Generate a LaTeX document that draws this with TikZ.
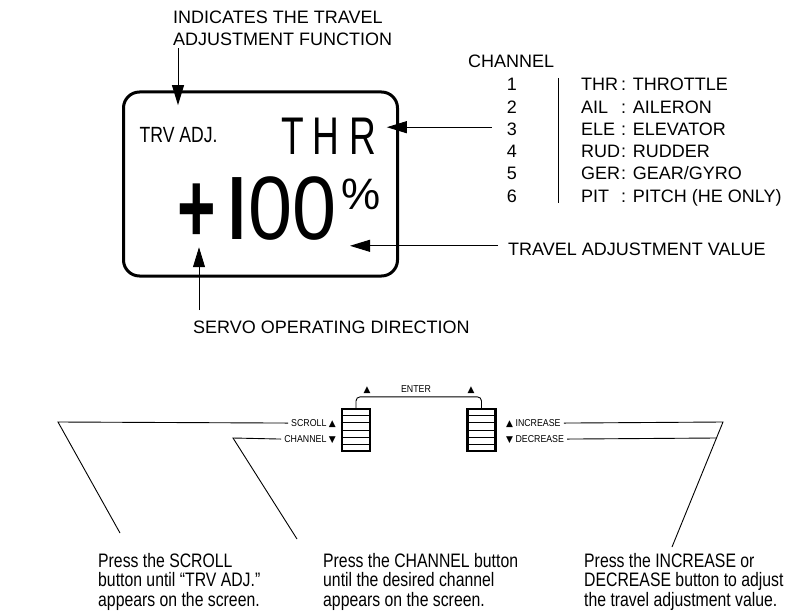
\documentclass[tikz,border=0pt]{standalone}
\usepackage{fontspec}
\setmainfont{Liberation Sans}
\newfontfamily\narrowfont[FakeStretch=0.88]{Liberation Sans}
\newfontfamily\notefont[FakeStretch=0.81]{Liberation Sans}
\newfontfamily\lcdfont[FakeStretch=0.8]{Liberation Sans}
\newfontfamily\segfont[FakeStretch=0.7]{Liberation Sans}
\newfontfamily\signfont[FakeStretch=0.66]{Liberation Sans}
\newfontfamily\symfont{DejaVu Sans}
\usetikzlibrary{arrows.meta,positioning,calc}
\newcommand{\fsz}[2]{\fontsize{#1}{#2}\selectfont}

\begin{document}
\begin{tikzpicture}[x=1pt,y=-1pt,
  lbl/.style={font=\fsz{18}{22}, inner sep=0pt},
  small/.style={font=\narrowfont\fsz{10}{12}, inner sep=0pt},
  note/.style={font=\notefont\fsz{19.5}{19.5}, inner sep=0pt, align=left, anchor=north west},
  pointer/.style={line width=0.9pt, -{Triangle[length=20pt,width=12pt]}},
  leader/.style={line width=0.9pt},
  keybtn/.style={draw, line width=2.2pt, minimum width=28pt, minimum height=42pt, inner sep=0pt}]
  \useasboundingbox (0,0) rectangle (809,615);

  % LCD screen
  \node[draw, line width=3pt, rounded corners=16pt, minimum width=274pt,
        minimum height=184pt, inner sep=0pt] (lcd) at (260.5,184) {};
  \node[inner sep=0pt, anchor=base west, font=\lcdfont\fsz{22}{22}] (trv) at (139.5,143) {TRV ADJ.};
  \node[inner sep=0pt, anchor=base west, font=\segfont\fsz{53}{53}] (thr) at (281.5,155) {T\hspace{8pt}H\hspace{10pt}R};
  \node[inner sep=0pt, anchor=base west, font=\signfont\bfseries\fsz{100}{100}] (sign) at (177.5,242) {+};
  \node[inner sep=0pt, anchor=base west, font=\segfont\bfseries\fsz{90}{90}] (one) at (228,240) {I};
  \node[inner sep=0pt, anchor=base west, font=\narrowfont\fsz{90}{90}] (zeros) at (248.7,240) {00};
  \node[inner sep=0pt, anchor=base west, font=\fsz{44}{44}] (pct) at (341.5,209) {\%};

  % Labels round the screen
  \node[lbl, align=left, anchor=north west] (indic) at (173,11) {INDICATES THE TRAVEL\\ADJUSTMENT FUNCTION};
  \draw[pointer] ($(indic.south west)+(5,2)$) -- ++(0,57);

  \node[lbl, anchor=base west] (servo) at (193,333) {SERVO OPERATING DIRECTION};
  \draw[pointer] ($(servo.north west)+(6,-10)$) -- ++(0,-63);

  \node[lbl, anchor=base west] (val) at (508,255) {TRAVEL ADJUSTMENT VALUE};
  \draw[pointer] ([xshift=-10pt,yshift=3pt]val.west) -- ++(-148,0);

  % Channel table
  \node[lbl, anchor=base west] (chan) at (468,68) {CHANNEL};
  \foreach \ab/\nm [count=\i] in {THR/THROTTLE, AIL/AILERON, ELE/ELEVATOR,
      RUD/RUDDER, GER/{GEAR/GYRO}, PIT/{PITCH (HE ONLY)}}{
    \node[lbl, anchor=base] (n\i) at (512,68.8+22.2*\i) {\i};
    \node[lbl, anchor=base west] (ab\i) at (581,68.8+22.2*\i) {\ab};
    \node[lbl, anchor=base west] (nm\i) at (621,68.8+22.2*\i) {: \nm};
  }
  \draw[leader] (558,78) -- (558,203);
  \draw[pointer] ([xshift=-15pt,yshift=2pt]n3.west) -- ++(-105,0);

  % Keys
  \node[keybtn] (lkey) at (356,430) {};
  \node[keybtn] (rkey) at (481.5,430) {};
  \foreach \k in {1,...,5}{
    \draw[line width=0.7pt] ($(lkey.north west)!\k/6!(lkey.south west)$) -- ($(lkey.north east)!\k/6!(lkey.south east)$);
    \draw[line width=0.7pt] ($(rkey.north west)!\k/6!(rkey.south west)$) -- ($(rkey.north east)!\k/6!(rkey.south east)$);
  }
  \draw[leader, rounded corners=4pt] (lkey.north) -- ++(0,-11) -| (rkey.north);
  \node[small, anchor=base] (enter) at (416,392) {ENTER};
  \node[inner sep=0pt, anchor=base, font=\symfont\fsz{9}{9}] (upl) at (367,392) {▲};
  \node[inner sep=0pt, anchor=base, font=\symfont\fsz{9}{9}] (upr) at (471,392) {▲};

  \node[small, anchor=base east] (scroll) at (336,426) {SCROLL {\symfont\fsz{9}{9}▲}};
  \node[small, anchor=base east] (chdown) at (336,442) {CHANNEL {\symfont\fsz{9}{9}▼}};
  \node[small, anchor=base west] (inc) at (506,426) {{\symfont\fsz{9}{9}▲} INCREASE};
  \node[small, anchor=base west] (dec) at (506,442) {{\symfont\fsz{9}{9}▼} DECREASE};

  % Instructions
  \node[note] (p1) at (98,553) {Press the SCROLL\\button until “TRV ADJ.”\\appears on the screen.};
  \node[note] (p2) at (323,553) {Press the CHANNEL button\\until the desired channel\\appears on the screen.};
  \node[note] (p3) at (584,553) {Press the INCREASE or\\DECREASE button to adjust\\the travel adjustment value.};

  % Leader lines
  \coordinate (sBend) at (58,422);
  \coordinate (sEnd) at (120,533);
  \coordinate (cBend) at (233,438);
  \coordinate (cEnd) at (297,539);
  \coordinate (iBend) at (723,422);
  \coordinate (iEnd) at (672,547);
  \path (iBend) -- (iEnd) coordinate[pos=0.128] (dJoin);
  \draw[leader] ([xshift=-3pt]scroll.west) -- (sBend) -- (sEnd);
  \draw[leader] ([xshift=-3pt]chdown.west) -- (cBend) -- (cEnd);
  \draw[leader] ([xshift=3pt]inc.east) -- (iBend) -- (iEnd);
  \draw[leader] ([xshift=3pt]dec.east) -- (dJoin);
\end{tikzpicture}
\end{document}
